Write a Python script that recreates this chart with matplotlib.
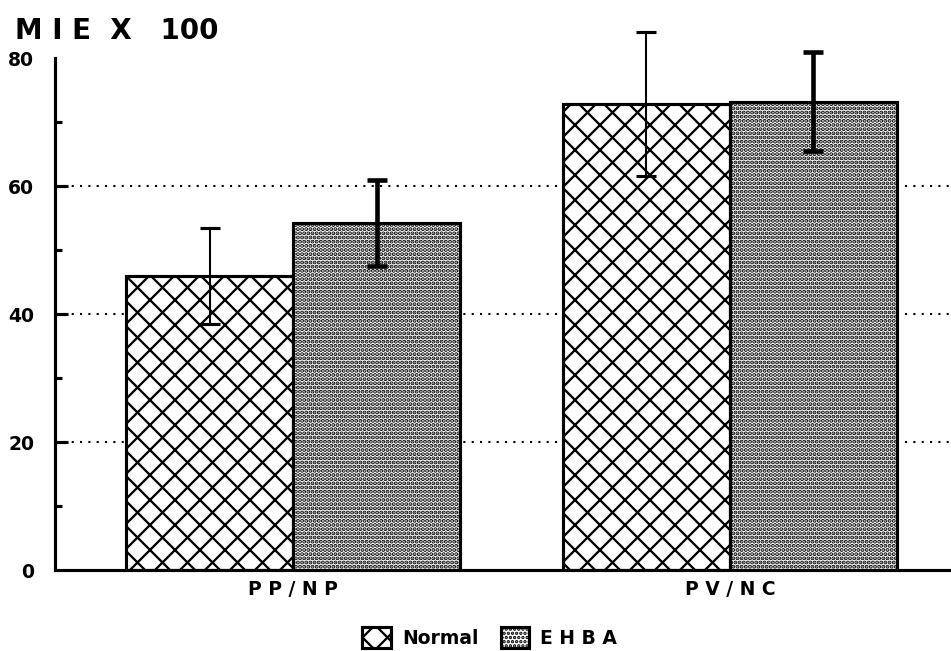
import matplotlib
matplotlib.use("Agg")
import matplotlib.pyplot as plt
import numpy as np
from matplotlib.patches import Patch

# MIE x 100 by vessel ratio, Normal vs EHBA (mean +/- error)
categories = ["P P / N P", "P V / N C"]
normal_mean = [46.0, 72.8]
normal_err = [7.5, 11.2]
ehba_mean = [54.2, 73.2]
ehba_err = [6.7, 7.8]
yticks = [0, 20, 40, 60, 80]

plt.rcParams["font.family"] = "DejaVu Sans"
plt.rcParams["font.weight"] = "bold"
plt.rcParams["hatch.linewidth"] = 1.1

NORMAL_HATCH, EHBA_HATCH = "xx", "......"

fig = plt.figure(figsize=(6.34, 4.34), dpi=150)
ax = fig.add_axes([0.0578, 0.1244, 0.9422, 0.7865])

x = np.arange(len(categories))
w = 0.382
ax.bar(x - w / 2, normal_mean, w, color="white", edgecolor="black", lw=1.5,
       hatch=NORMAL_HATCH, zorder=2)
normal_handle = Patch(facecolor="white", edgecolor="black", hatch=NORMAL_HATCH, lw=1.5)
# dots need a heavier stroke to reach the dark screen tone of the original
with plt.rc_context({"hatch.linewidth": 1.35}):
    ax.bar(x + w / 2, ehba_mean, w, color="white", edgecolor="black", lw=1.5,
           hatch=EHBA_HATCH, zorder=2)
    ehba_handle = Patch(facecolor="white", edgecolor="black", hatch=EHBA_HATCH, lw=1.5)

for xs, m, e, lw in [(x - w / 2, normal_mean, normal_err, 1.0),
                     (x + w / 2, ehba_mean, ehba_err, 2.2)]:
    eb = ax.errorbar(xs, m, yerr=e, fmt="none", ecolor="black", elinewidth=lw,
                     capsize=4.8, capthick=max(lw, 1.5), zorder=3)
    for art in eb.get_children():
        art.set_clip_on(False)

for v in [20, 40, 60]:
    ax.axhline(v, color="black", lw=1.0, ls=(0, (1, 3)), zorder=1)

ax.set_xlim(-0.545, 1.506)
ax.set_ylim(0, 80)
ax.set_yticks(yticks)
ax.set_yticks([10, 30, 50, 70], minor=True)
ax.set_yticklabels([str(t) for t in yticks], fontsize=9, fontweight="bold")
ax.tick_params(axis="y", which="major", direction="in", length=6, width=1.5, pad=10)
ax.tick_params(axis="y", which="minor", direction="in", length=3.4, width=1.5)
for i in (0, len(yticks) - 1):
    ax.yaxis.get_major_ticks()[i].tick1line.set_visible(False)
ax.set_xticks(x)
ax.set_xticklabels(categories, fontsize=9, fontweight="bold")
ax.tick_params(axis="x", length=0, pad=5)
ax.spines[["top", "right"]].set_visible(False)
ax.spines[["left", "bottom"]].set_linewidth(1.5)

fig.text(0.016, 0.953, "M I E  X   100", fontsize=13.3, fontweight="bold", va="center")

fig.legend([normal_handle, ehba_handle], ["Normal", "E H B A"], loc="lower center", ncol=2,
           bbox_to_anchor=(0.515, -0.022), frameon=False, fontsize=9,
           handlelength=1.5, handleheight=1.4, columnspacing=1.2, handletextpad=0.6)

fig.savefig("out.png", dpi=150)
